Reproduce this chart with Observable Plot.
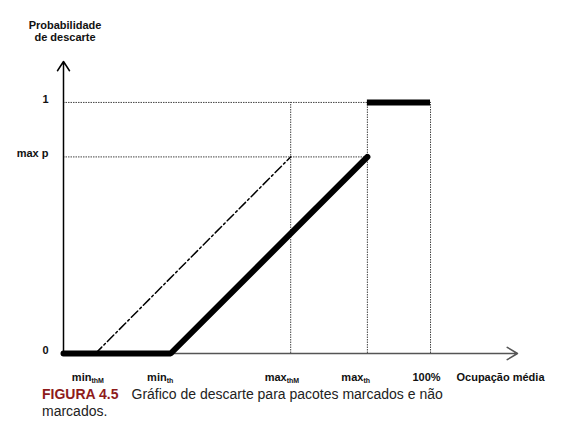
<!DOCTYPE html>
<html>
<head>
<meta charset="utf-8">
<script src="https://cdn.jsdelivr.net/npm/d3@7"></script>
<script src="https://cdn.jsdelivr.net/npm/@observablehq/plot@0.6"></script>
<style>
  html, body { margin: 0; padding: 0; background: #fff; }
  body { width: 569px; height: 433px; overflow: hidden; font-family: "Liberation Sans", Arial, sans-serif; }
  #title { position: relative; height: 48px; }
  #title div { position: absolute; left: 15px; width: 100px; top: 19px; text-align: center;
               font-weight: bold; font-size: 11px; line-height: 12px; color: #111; }
  #chart svg { display: block; }
  #caption { margin-left: 42px; margin-top: 2px; font-size: 14px; line-height: 17px; color: #222; }
  #caption .l1 { white-space: nowrap; }
  #caption .fig { font-weight: bold; color: #8e1b1b; margin-right: 13px; }
</style>
</head>
<body>
<div id="title"><div>Probabilidade<br>de descarte</div></div>
<div id="chart"></div>
<div id="caption">
  <div class="l1"><span class="fig">FIGURA 4.5</span><span>Gráfico de descarte para pacotes marcados e não</span></div>
  <div>marcados.</div>
</div>
<script>
// ---- data (occupancy in %, probability 0..1) ----
const thresholdNames = ["min", "min", "max", "max"];
const thresholdSubs = ["thM", "th", "thM", "th"];
const thresholdValues = [8.7, 29.2, 61.9, 82.8];   // min_thM, min_th, max_thM, max_th
const fullOccupancy = 100;
const fullLabel = "100%";
const xTitle = "Ocupação média";
const maxP = 0.783;
const yLabels = ["0", "max p", "1"];
const yValues = [0, maxP, 1];
const xAxisEnd = 123.7;
const yAxisEnd = 1.163;

// thick curve (unmarked packets)
const unmarkedX = [0, thresholdValues[1], thresholdValues[3]];
const unmarkedY = [0, 0, maxP];
// dash-dot curve (marked packets)
const markedX = [thresholdValues[0], thresholdValues[2]];
const markedY = [0, maxP];

const unmarked = unmarkedX.map((x, i) => ({x, y: unmarkedY[i]}));
const marked = markedX.map((x, i) => ({x, y: markedY[i]}));
const thresholds = thresholdValues.map((v, i) => ({x: v, main: thresholdNames[i], sub: thresholdSubs[i]}));
const yTicks = yValues.map((v, i) => ({y: v, label: yLabels[i]}));

const dotted = {stroke: "#444", strokeWidth: 1, strokeDasharray: "1.5,1"};
const lbl = {fontWeight: "bold", fontSize: 11, fill: "#111"};

const chart = Plot.plot({
  width: 569,
  height: 336,
  marginLeft: 63,
  marginRight: 52,
  marginTop: 13,
  marginBottom: 31,
  style: {fontFamily: "'Liberation Sans', Arial, sans-serif", background: "white"},
  x: {domain: [0, xAxisEnd], axis: null},
  y: {domain: [0, yAxisEnd], axis: null},
  marks: [
    // dotted reference lines
    Plot.ruleY([1], {x1: 0, x2: fullOccupancy, ...dotted}),
    Plot.ruleY([maxP], {x1: 0, x2: thresholdValues[3], ...dotted}),
    Plot.ruleX([thresholdValues[2], thresholdValues[3], fullOccupancy], {y1: 0, y2: 1, ...dotted}),
    // axes with arrowheads
    Plot.arrow([{x1: 0, y1: 0, x2: xAxisEnd, y2: 0}], {x1: "x1", y1: "y1", x2: "x2", y2: "y2",
      stroke: "#555", strokeWidth: 1.5, headLength: 12, headAngle: 62}),
    Plot.arrow([{x1: 0, y1: 0, x2: 0, y2: yAxisEnd}], {x1: "x1", y1: "y1", x2: "x2", y2: "y2",
      stroke: "#000", strokeWidth: 1.5, headLength: 11, headAngle: 66}),
    // curves
    Plot.line(marked, {x: "x", y: "y", stroke: "#000", strokeWidth: 1.5, strokeDasharray: "9,3,2,3"}),
    Plot.line(unmarked, {x: "x", y: "y", stroke: "#000", strokeWidth: 6, strokeLinejoin: "miter"}),
    Plot.ruleY([1], {x1: thresholdValues[3], x2: fullOccupancy, stroke: "#000", strokeWidth: 6}),
    // y labels
    Plot.text(yTicks, {x: () => 0, y: "y", text: "label", textAnchor: "end", dx: -15, dy: -3, ...lbl}),
    // x labels
    Plot.text(thresholds, {x: "x", y: () => 0, text: "main", textAnchor: "end", dx: -4, dy: 24, ...lbl}),
    Plot.text(thresholds, {x: "x", y: () => 0, text: "sub", textAnchor: "start", dx: -4, dy: 27,
      fontWeight: "bold", fontSize: 7, fill: "#111"}),
    Plot.text([fullLabel], {x: () => fullOccupancy, y: () => 0, text: d => d, textAnchor: "middle", dx: -4, dy: 24, ...lbl}),
    Plot.text([xTitle], {x: () => xAxisEnd, y: () => 0, text: d => d, textAnchor: "middle", dx: -17, dy: 24, ...lbl})
  ]
});
document.getElementById("chart").appendChild(chart);
</script>
</body>
</html>
